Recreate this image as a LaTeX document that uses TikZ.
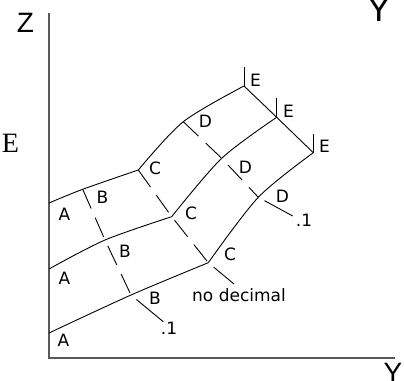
\documentclass[tikz,border=0pt]{standalone}
\usepackage{fontspec}
\setmainfont{DejaVu Sans}
\newfontfamily\axisfont{Liberation Sans}
\newfontfamily\serffont{Liberation Serif}
\usetikzlibrary{positioning,calc}

\begin{document}
\begin{tikzpicture}[
x=1pt, y=1pt,
lbl/.style={inner sep=0pt, font=\fontsize{17}{17}\selectfont},
axlbl/.style={inner sep=0pt, font=\axisfont\fontsize{28}{28}\selectfont},
axisline/.style={draw=black!65, line width=1.8pt},
row/.style={draw=black, line width=0.9pt},
dashrow/.style={row, dash pattern=on 21pt off 10pt},
endtick/.style={row, shorten <=7pt}
]
\path[use as bounding box, clip] (0,0) rectangle (404,380);

% Axes
\coordinate (ztop) at (49,367);
\coordinate (orig) at (49,22);
\coordinate (yend) at (395,22);
\draw[axisline] (ztop) -- (orig) -- (yend);
\node[axlbl] (zlab) at (25.5,357) {Z};
\node[axlbl, anchor=base, font=\axisfont\fontsize{36}{36}\selectfont] (ytop) at (379,358) {Y};
\node[axlbl, anchor=north] (ybot) at (393,17) {Y};
\node[inner sep=0pt, font=\serffont\fontsize{28}{28}\selectfont] (elab) at (10.5,237) {E};

% Grid points, one row per curve
\coordinate (a1) at (49,177);
\coordinate (b1) at (82.7,190.7);
\coordinate (c1) at (138.3,210);
\coordinate (d1) at (183.3,258.3);
\coordinate (e1) at (244,294);

\coordinate (a2) at (49,111);
\coordinate (b2) at (105,140);
\coordinate (c2) at (171.7,163.3);
\coordinate (d2) at (221.7,221.7);
\coordinate (e2) at (276.7,262.7);

\coordinate (a3) at (49,47);
\coordinate (b3) at (131,85);
\coordinate (c3) at (208.3,117.3);
\coordinate (d3) at (258.3,182.7);
\coordinate (e3) at (313.3,227.3);

% Free ends of the short ticks
\coordinate (e1t) at (244,313);
\coordinate (e2t) at (276.7,281.7);
\coordinate (e3t) at (313.3,246);
\coordinate (btk) at (163.3,58.3);
\coordinate (ctk) at (234,96);
\coordinate (dtk) at (292.7,164);

% Curves
\draw[row] plot[smooth] coordinates {(a1) (b1) (c1)};
\draw[row] plot[smooth] coordinates {(c1) (d1) (e1)};
\draw[row] plot[smooth] coordinates {(a2) (b2) (c2)};
\draw[row] plot[smooth] coordinates {(c2) (d2) (e2)};
\draw[row] plot[smooth] coordinates {(a3) (b3) (c3)};
\draw[row] plot[smooth] coordinates {(c3) (d3) (e3)};

% E edge and ticks
\draw[row] (e1) -- (e2) -- (e3);
\draw[row] (e1) -- (e1t);
\draw[row] (e2) -- (e2t);
\draw[row] (e3) -- (e3t);

% Dashed cross lines
\draw[dashrow] (b1) -- (b2) -- (b3);
\draw[dashrow] (c1) -- (c2) -- (c3);
\draw[dashrow] (d1) -- (d2) -- (d3);
\draw[endtick] (b3) -- (btk);
\draw[endtick] (c3) -- (ctk);
\draw[endtick] (d3) -- (dtk);

% Labels
\node[lbl] (la1) at (64.5,166) {A};
\node[lbl] (la2) at (64.5,101.5) {A};
\node[lbl] (la3) at (63.5,40) {A};
\node[lbl] (lb1) at (102.5,182.5) {B};
\node[lbl] (lb2) at (125,128.5) {B};
\node[lbl] (lb3) at (155,81.5) {B};
\node[lbl] (lc1) at (155,211.5) {C};
\node[lbl] (lc2) at (191,166.5) {C};
\node[lbl] (lc3) at (230,125.5) {C};
\node[lbl] (ld1) at (205.5,258.5) {D};
\node[lbl] (ld2) at (245.5,212.5) {D};
\node[lbl] (ld3) at (282.5,183.5) {D};
\node[lbl] (le1) at (255.5,300) {E};
\node[lbl] (le2) at (288.5,269) {E};
\node[lbl] (le3) at (324.5,233.5) {E};
\node[lbl] (lbt) at (169,51.5) {.1};
\node[lbl] (ldt) at (304,160) {.1};
\node[lbl] (lct) at (239,85) {no decimal};

\end{tikzpicture}
\end{document}
